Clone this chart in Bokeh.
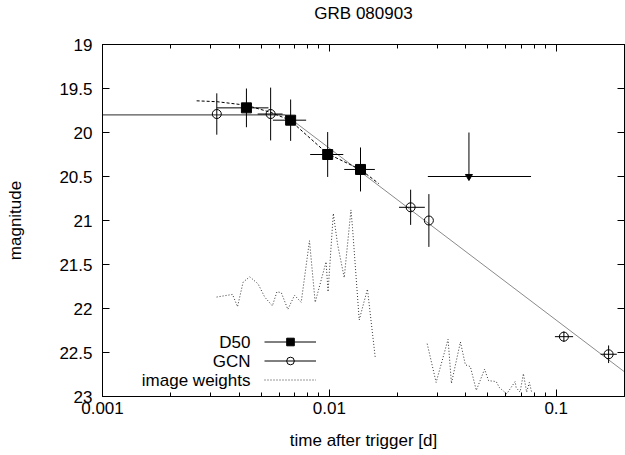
import numpy as np
from bokeh.plotting import figure
from bokeh.models import (Range1d, FixedTicker, CustomJSTickFormatter, LinearAxis, LogAxis,
                          Legend, LegendItem, Label)
from bokeh.embed import file_html
from bokeh.resources import INLINE

# ---------------- data ----------------
d50_t = [0.00431, 0.00675, 0.00983, 0.01372]
d50_mag = [19.72, 19.86, 20.25, 20.42]
d50_merr = [0.22, 0.235, 0.255, 0.25]
d50_tlo = [0.00319, 0.00564, 0.00823, 0.01163]
d50_thi = [0.00539, 0.00790, 0.01152, 0.01587]

gcn_t = [0.00319, 0.00551, 0.02282, 0.02746, 0.1081, 0.1702]
gcn_mag = [19.79, 19.79, 20.85, 21.00, 22.32, 22.52]
gcn_merr = [0.235, 0.30, 0.20, 0.30, 0.06, 0.10]
gcn_tlo = [0.00319, 0.00483, 0.02028, 0.02746, 0.0987, 0.157]
gcn_thi = [0.00319, 0.00622, 0.02636, 0.02746, 0.1187, 0.185]

# upper limit
ul_t = [0.04124]
ul_mag = [20.50]
ul_top = [20.0]
ul_tlo = [0.02718]
ul_thi = [0.07745]

# fitted model (plateau + power-law decay)
model_t = [0.001, 0.0064, 0.2]
model_mag = [19.80, 19.80, 22.72]

# D50 fit curve (dashed)
fit_t = [0.0026, 0.0032, 0.0043, 0.0055, 0.0067, 0.0098, 0.0137, 0.0165]
fit_mag = [19.64, 19.65, 19.69, 19.77, 19.86, 20.24, 20.42, 20.58]

# image weights (two segments)
w1_t = [0.003185, 0.003743, 0.003937, 0.004167, 0.004459, 0.004850, 0.005188, 0.005608,
        0.005874, 0.006140, 0.006561, 0.007022, 0.007514, 0.008173, 0.008660, 0.009672,
        0.009869, 0.01041, 0.01087, 0.01163, 0.01245, 0.01265, 0.01354, 0.01472, 0.01592]
w1_mag = [21.87, 21.84, 21.98, 21.70, 21.64, 21.72, 21.87, 21.97,
          21.81, 21.82, 22.01, 21.85, 21.93, 21.23, 21.93, 21.47,
          21.81, 20.92, 21.27, 21.65, 20.88, 21.08, 22.13, 21.78, 22.55]
w2_t = [0.02699, 0.02956, 0.03336, 0.03453, 0.03782, 0.03978, 0.04183, 0.04444, 0.04832,
        0.05032, 0.05437, 0.05623, 0.06053, 0.06590, 0.0666, 0.06931, 0.07166, 0.07408,
        0.07613, 0.07792]
w2_mag = [22.40, 22.84, 22.35, 22.85, 22.38, 22.64, 22.66, 22.93, 22.69,
          22.82, 22.83, 22.90, 22.97, 22.83, 22.90, 22.95, 22.74, 22.95,
          22.84, 22.95]

x_ticks = [0.001, 0.01, 0.1]
x_tick_labels = ["0.001", "0.01", "0.1"]
x_minor = [m * d for d in x_ticks for m in range(2, 10)]
y_ticks = [19, 19.5, 20, 20.5, 21, 21.5, 22, 22.5, 23]
y_tick_labels = ["19", "19.5", "20", "20.5", "21", "21.5", "22", "22.5", "23"]

legend_labels = ["D50", "GCN", "image weights"]
title_text = "GRB 080903"

FONT = "Liberation Sans"
FS = "17px"

# ---------------- figure ----------------
p = figure(width=625, height=455, x_axis_type="log",
           x_range=Range1d(0.001, 0.2), y_range=Range1d(23, 19),
           output_backend="svg", toolbar_location=None, title=None,
           min_border_left=102, min_border_right=1, min_border_top=44, min_border_bottom=59)
p.grid.visible = False
p.outline_line_color = "black"
p.outline_line_width = 1
p.background_fill_color = "white"
p.border_fill_color = "white"

xt = FixedTicker(ticks=x_ticks, minor_ticks=x_minor)
yt = FixedTicker(ticks=y_ticks)
empty = CustomJSTickFormatter(code="return ''")


def style_axis(ax, minor=True):
    ax.major_tick_in = 7
    ax.major_tick_out = 0
    ax.minor_tick_in = 4 if minor else 0
    ax.minor_tick_out = 0
    ax.axis_line_color = "black"
    ax.major_tick_line_color = "black"
    ax.minor_tick_line_color = "black"
    ax.major_label_text_font = FONT
    ax.major_label_text_font_size = FS
    ax.major_label_text_color = "black"
    ax.axis_label_text_font = FONT
    ax.axis_label_text_font_size = FS
    ax.axis_label_text_font_style = "normal"
    ax.axis_label_text_color = "black"


xa = p.xaxis[0]
xa.ticker = xt
xa.major_label_overrides = dict(zip(x_ticks, x_tick_labels))
xa.axis_label = "time after trigger [d]"
style_axis(xa)
xa.major_label_standoff = 5
xa.axis_label_standoff = 14

ya = p.yaxis[0]
ya.ticker = yt
ya.major_label_overrides = dict(zip(y_ticks, y_tick_labels))
ya.axis_label = "magnitude"
style_axis(ya, minor=False)
ya.major_label_standoff = 10
ya.axis_label_standoff = 31

# top axis: mirrored ticks, and it carries the plot title (gnuplot-style placement)
top = LogAxis(ticker=xt, formatter=empty, axis_label=title_text)
style_axis(top)
top.major_label_standoff = 0
top.axis_label_standoff = 22
p.add_layout(top, "above")
right = LinearAxis(ticker=yt, formatter=empty)
style_axis(right, minor=False)
right.major_label_standoff = 0
p.add_layout(right, "right")

# ---------------- glyphs ----------------
d50_lo = np.array(d50_mag) - np.array(d50_merr)
d50_hi = np.array(d50_mag) + np.array(d50_merr)
gcn_lo = np.array(gcn_mag) - np.array(gcn_merr)
gcn_hi = np.array(gcn_mag) + np.array(gcn_merr)

# model line
p.line(model_t[:2], model_mag[:2], line_color="#555555", line_width=1.3)
p.line(model_t[1:], model_mag[1:], line_color="#8a8a8a", line_width=1)

# image weights
w_line = p.line(w1_t, w1_mag, line_color="#333333", line_width=1, line_dash="1 2")
p.line(w2_t, w2_mag, line_color="#333333", line_width=1, line_dash="1 2")

# D50 fit
p.line(fit_t, fit_mag, line_color="black", line_width=1, line_dash="3 2")

# GCN
p.segment(gcn_t, gcn_lo, gcn_t, gcn_hi, line_color="black", line_width=1)
gcn_h = p.segment(gcn_tlo, gcn_mag, gcn_thi, gcn_mag, line_color="black", line_width=1)
gcn_m = p.scatter(gcn_t, gcn_mag, marker="circle", size=9, fill_color=None,
                  line_color="black", line_width=1)

# D50
p.segment(d50_t, d50_lo, d50_t, d50_hi, line_color="black", line_width=1)
d50_h = p.segment(d50_tlo, d50_mag, d50_thi, d50_mag, line_color="black", line_width=1)
d50_m = p.scatter(d50_t, d50_mag, marker="square", size=10, fill_color="black",
                  line_color="black")

# upper limit
p.segment(ul_tlo, ul_mag, ul_thi, ul_mag, line_color="black", line_width=1)
p.segment(ul_t, ul_top, ul_t, ul_mag, line_color="black", line_width=1)
p.scatter(ul_t, ul_mag, marker="inverted_triangle", size=7, fill_color="black",
          line_color="black")

# ---------------- legend (gnuplot style: text left, sample right) ----------------
leg = Legend(items=[LegendItem(label="", renderers=[d50_h, d50_m]),
                    LegendItem(label="", renderers=[gcn_h, gcn_m]),
                    LegendItem(label="", renderers=[w_line])],
             location=(162, 7), padding=0, margin=0, spacing=0,
             glyph_width=52, glyph_height=19, label_height=19, label_width=0,
             label_standoff=0, border_line_color=None, background_fill_alpha=0)
p.add_layout(leg, "center")

for lab, yy in zip(legend_labels, [54, 35, 16]):
    p.add_layout(Label(x=148, y=yy, x_units="screen", y_units="screen", text=lab,
                       text_align="right", text_baseline="middle",
                       text_font=FONT, text_font_size=FS, text_color="black"))

open("out.html", "w").write(file_html(p, INLINE))
